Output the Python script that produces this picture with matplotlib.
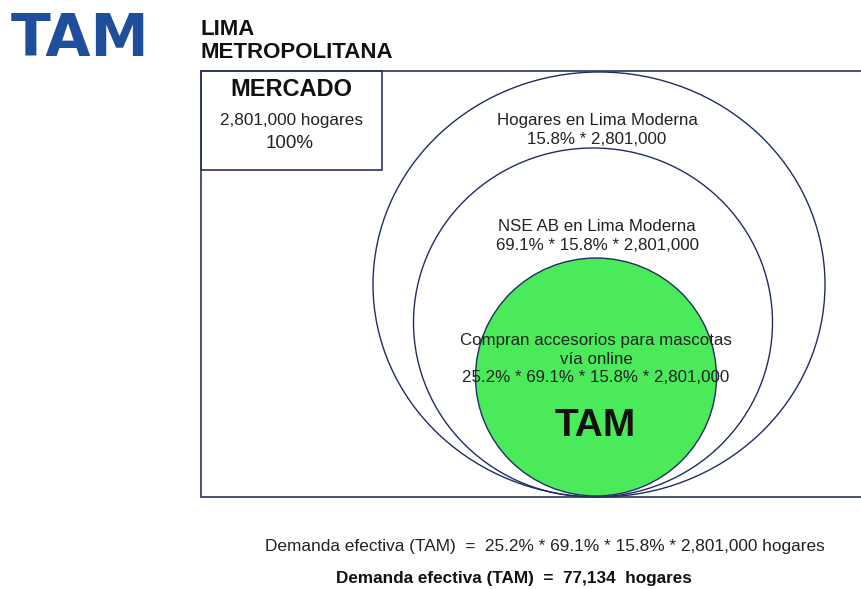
import matplotlib
matplotlib.use("Agg")
import matplotlib.pyplot as plt
from matplotlib.patches import Ellipse, Rectangle

plt.rcParams['font.family'] = ['Liberation Sans', 'DejaVu Sans']

# ---- data ----
mercado_hogares = 2801000
mercado_pct = "100%"
segment_names = ["Hogares en Lima Moderna",
                 "NSE AB en Lima Moderna",
                 "Compran accesorios para mascotas\nvía online"]
segment_pcts = [15.8, 69.1, 25.2]
tam_hogares = 77134
region_title = "LIMA\nMETROPOLITANA"

def fmt_int(v):
    return f"{v:,}"

# formula strings built from data
f1 = f"{segment_pcts[0]}% * {fmt_int(mercado_hogares)}"
f2 = f"{segment_pcts[1]}% * " + f1
f3 = f"{segment_pcts[2]}% * " + f2

fig = plt.figure(figsize=(8.61, 5.89), dpi=100)
ax = fig.add_axes([0, 0, 1, 1])
ax.set_xlim(0, 861)
ax.set_ylim(589, 0)
ax.axis('off')

edge = '#2a3560'
circ_edge = '#1f2d66'

# logo
ax.text(11, 56, "TAM", fontsize=42, fontweight='bold', color='#1f4e9c',
        family='DejaVu Sans', ha='left', va='baseline')
# region title
ax.text(201, 58, region_title, fontsize=16, fontweight='bold', color='#111111',
        ha='left', va='baseline', linespacing=1.12)

# outer frame (open on the right)
ax.plot([861, 201, 201, 861], [71, 71, 497, 497], color=edge, lw=1.2,
        solid_joinstyle='miter')
# mercado box
ax.add_patch(Rectangle((201, 71), 181, 99, fill=False, edgecolor=edge, lw=1.2))
ax.text(291, 89, "MERCADO", fontsize=17, fontweight='bold', ha='center', va='center',
        color='#111111')
ax.text(291, 121, f"{fmt_int(mercado_hogares)} hogares", fontsize=12.3, ha='center',
        va='center', color='#222222')
ax.text(290, 143, mercado_pct, fontsize=13.5, ha='center', va='center', color='#222222')

# circles (all tangent at the bottom)
ax.add_patch(Ellipse((599, 284.5), 452, 425, fill=False, edgecolor=circ_edge, lw=1.0))
ax.add_patch(Ellipse((593, 322.5), 359, 349, fill=False, edgecolor=circ_edge, lw=1.0))
ax.add_patch(Ellipse((596, 377), 241, 238, facecolor='#4bea5a', edgecolor=circ_edge,
                     lw=1.0))

txt_c = '#222222'
ax.text(597, 130, segment_names[0] + "\n" + f1, fontsize=12.2, ha='center', va='center',
        color=txt_c, linespacing=1.3)
ax.text(597, 236, segment_names[1] + "\n" + f2, fontsize=12.2, ha='center', va='center',
        color=txt_c, linespacing=1.3)
ax.text(596, 359, segment_names[2] + "\n" + f3, fontsize=12.2, ha='center', va='center',
        color=txt_c, linespacing=1.25)
ax.text(595, 426, "TAM", fontsize=28, fontweight='bold', ha='center', va='center',
        color='#111111')

# bottom formulas
ax.text(545, 547, "Demanda efectiva (TAM)  =  " + f3 + " hogares", fontsize=12.4,
        ha='center', va='center', color='#222222')
ax.text(514, 578, f"Demanda efectiva (TAM)  =  {fmt_int(tam_hogares)}  hogares",
        fontsize=12.3, fontweight='bold', ha='center', va='center', color='#111111')

fig.savefig("out.png", dpi=100, facecolor='white')
